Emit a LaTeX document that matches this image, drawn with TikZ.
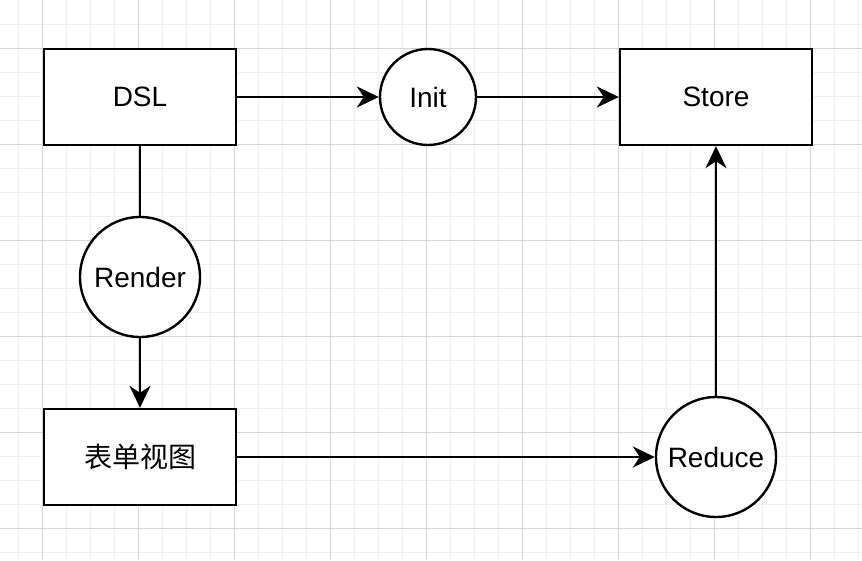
\documentclass[tikz,border=0pt]{standalone}
\usepackage{fontspec}
\setmainfont{Liberation Sans}
\newfontfamily\cjk{Noto Sans CJK SC}
\usetikzlibrary{arrows.meta}
\definecolor{minorgrid}{HTML}{F0F0F0}
\definecolor{majorgrid}{HTML}{D4D4D4}
\tikzset{
  box/.style={draw=black, line width=2.4pt, fill=white, minimum width=192pt, minimum height=96pt, inner sep=0pt, font=\fontsize{28}{32}\selectfont},
  circ/.style={draw=black, line width=2.4pt, fill=white, circle, inner sep=0pt, font=\fontsize{28}{32}\selectfont},
  conn/.style={line width=2.4pt, draw=black},
  arr/.style={conn, -{Stealth[length=22pt, width=21pt, inset=7pt]}}
}
\begin{document}
\begin{tikzpicture}[x=1pt, y=-1pt]
\useasboundingbox (0,0) rectangle (862,560);
\fill[white] (0,0) rectangle (862,560);
% grid
\foreach \x in {18,42,...,862} \draw[minorgrid, line width=1pt] (\x,0) -- (\x,560);
\foreach \y in {24,48,...,560} \draw[minorgrid, line width=1pt] (0,\y) -- (862,\y);
\foreach \x in {42,138,...,862} \draw[majorgrid, line width=1pt] (\x,0) -- (\x,560);
\foreach \y in {48,144,...,560} \draw[majorgrid, line width=1pt] (0,\y) -- (862,\y);
% nodes
\node[box] (dsl) at (140,97) {DSL};
\node[box] (store) at (716,97) {Store};
\node[box] (form) at (140,457) {\cjk 表单视图};
\node[circ, minimum size=96pt] (init) at (428,97) {Init};
\node[circ, minimum size=120pt] (render) at (140,277) {Render};
\node[circ, minimum size=120pt] (reduce) at (716,457) {Reduce};
% connectors
\draw[arr] (dsl) -- (init);
\draw[arr] (init) -- (store);
\draw[conn] (dsl) -- (render);
\draw[arr] (render) -- (form);
\draw[arr] (form) -- (reduce);
\draw[arr] (reduce) -- (store);
\end{tikzpicture}
\end{document}
